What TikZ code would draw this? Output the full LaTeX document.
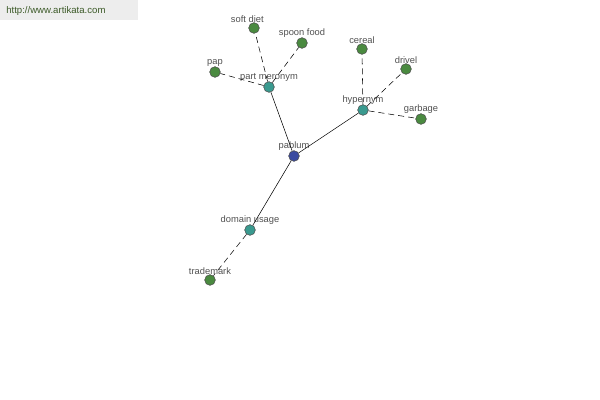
\documentclass[tikz,border=0pt]{standalone}
\usepackage{fontspec}
\setmainfont{Liberation Sans}
\usetikzlibrary{positioning}
\definecolor{leafgreen}{HTML}{4A8A40}
\definecolor{relteal}{HTML}{3A9A8F}
\definecolor{rootblue}{HTML}{3A4AA0}
\definecolor{labelgray}{HTML}{505050}
\definecolor{linkgreen}{HTML}{3C5A28}
\begin{document}
\begin{tikzpicture}[x=0.75pt,y=-0.75pt,
  every node/.style={draw=black!70,circle,inner sep=0pt,minimum size=8pt},
  every label/.style={draw=none,rectangle,minimum size=0pt,inner sep=1pt,text=labelgray,font=\fontsize{7pt}{8pt}\selectfont},
  label distance=-1.5pt,
  leaflink/.style={thin,dash pattern=on 4.5pt off 3pt}]
  \useasboundingbox (0,0) rectangle (600,400);
  \fill[black!7] (0,0) rectangle (138,20);
  \node[draw=none,rectangle,minimum size=0pt,anchor=west,text=linkgreen,font=\fontsize{7.2pt}{8pt}\selectfont] (url) at (6,11) {http://www.artikata.com};
  \node[fill=rootblue] (pablum) at (294,156)[label=above:pablum]{};
  \node[fill=relteal] (part) at (269,87)[label=above:part meronym]{};
  \node[fill=relteal] (hyper) at (363,110)[label=above:hypernym]{};
  \node[fill=relteal] (domain) at (250,230)[label=above:domain usage]{};
  \node[fill=leafgreen] (soft) at (254,28)[label={[xshift=-5pt]above:soft diet}]{};
  \node[fill=leafgreen] (spoon) at (302,43)[label=above:spoon food]{};
  \node[fill=leafgreen] (pap) at (215,72)[label=above:pap]{};
  \node[fill=leafgreen] (cereal) at (362,49)[label=above:cereal]{};
  \node[fill=leafgreen] (drivel) at (406,69)[label=above:drivel]{};
  \node[fill=leafgreen] (garbage) at (421,119)[label=above:garbage]{};
  \node[fill=leafgreen] (trademark) at (210,280)[label=above:trademark]{};
  \draw[thin](part)--(pablum)--(hyper);
  \draw[thin](pablum)--(domain);
  \draw[leaflink](part)--(soft);
  \draw[leaflink](part)--(spoon);
  \draw[leaflink](part)--(pap);
  \draw[leaflink](hyper)--(cereal);
  \draw[leaflink](hyper)--(drivel);
  \draw[leaflink](hyper)--(garbage);
  \draw[leaflink](domain)--(trademark);
\end{tikzpicture}
\end{document}
